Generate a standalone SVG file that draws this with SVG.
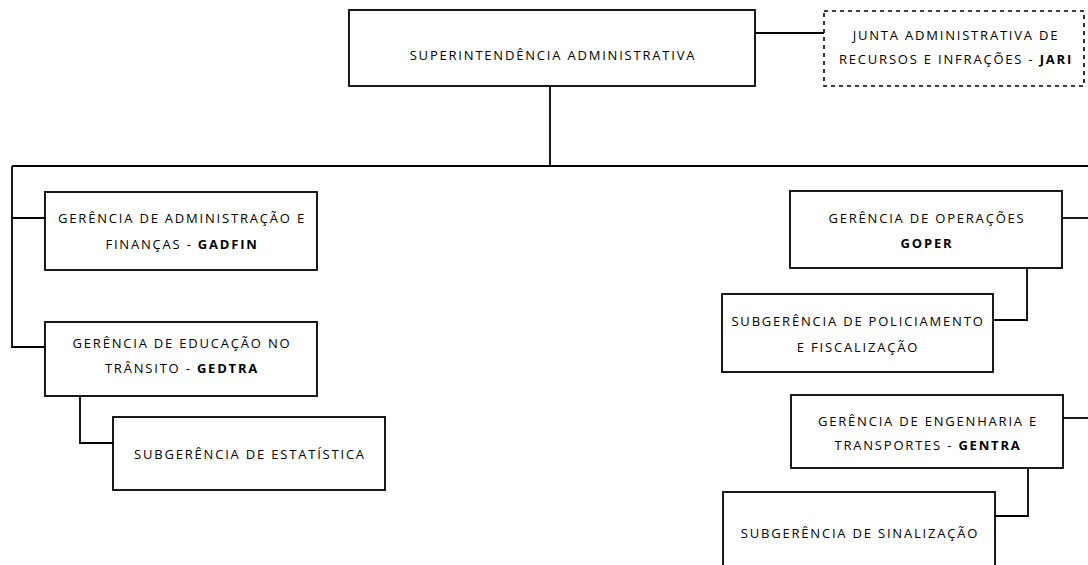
<svg xmlns="http://www.w3.org/2000/svg" width="1088" height="565" viewBox="0 0 1088 565">
<style>
.box{fill:#fff;stroke:#000;stroke-width:1.8}
.dash{fill:#fff;stroke:#000;stroke-width:1.6;stroke-dasharray:4 4}
.ln{fill:none;stroke:#000;stroke-width:1.8}
text{font-family:"Open Sans","Noto Sans","Liberation Sans",sans-serif;font-size:13px;fill:#000;text-anchor:middle;letter-spacing:1.8px}
.b{font-weight:bold}
</style>
<rect width="1088" height="565" fill="#fff"/>
<g id="connectors">
<path class="ln" d="M755 33H824"/>
<path class="ln" d="M550 86V166"/>
<path class="ln" d="M12 166H1090V418"/>
<path class="ln" d="M12 166V347H45"/>
<path class="ln" d="M12 218H45"/>
<path class="ln" d="M1062 218H1090"/>
<path class="ln" d="M1063 418H1090"/>
<path class="ln" d="M80 396V443H113"/>
<path class="ln" d="M1027 268V320H993"/>
<path class="ln" d="M1028 468V516H995"/>
</g>
<g id="superintendencia">
<rect class="box" x="349" y="10" width="406" height="76"/>
<text x="553" y="60">SUPERINTENDÊNCIA ADMINISTRATIVA</text>
</g>
<g id="jari">
<rect class="dash" x="824" y="11" width="260" height="75"/>
<text x="956" y="40">JUNTA ADMINISTRATIVA DE</text>
<text x="956" y="64">RECURSOS E INFRAÇÕES - <tspan class="b">JARI</tspan></text>
</g>
<g id="gadfin">
<rect class="box" x="45" y="192" width="272" height="78"/>
<text x="182" y="223">GERÊNCIA DE ADMINISTRAÇÃO E</text>
<text x="182" y="249">FINANÇAS - <tspan class="b">GADFIN</tspan></text>
</g>
<g id="gedtra">
<rect class="box" x="45" y="322" width="272" height="74"/>
<text x="182" y="348">GERÊNCIA DE EDUCAÇÃO NO</text>
<text x="182" y="373">TRÂNSITO - <tspan class="b">GEDTRA</tspan></text>
</g>
<g id="estatistica">
<rect class="box" x="113" y="417" width="272" height="73"/>
<text x="250" y="459">SUBGERÊNCIA DE ESTATÍSTICA</text>
</g>
<g id="goper">
<rect class="box" x="790" y="191" width="272" height="77"/>
<text x="927" y="223">GERÊNCIA DE OPERAÇÕES</text>
<text x="927" y="248"><tspan class="b">GOPER</tspan></text>
</g>
<g id="policiamento">
<rect class="box" x="722" y="294" width="271" height="78"/>
<text x="858" y="326">SUBGERÊNCIA DE POLICIAMENTO</text>
<text x="858" y="352">E FISCALIZAÇÃO</text>
</g>
<g id="gentra">
<rect class="box" x="791" y="395" width="272" height="73"/>
<text x="928" y="426">GERÊNCIA DE ENGENHARIA E</text>
<text x="928" y="450">TRANSPORTES - <tspan class="b">GENTRA</tspan></text>
</g>
<g id="sinalizacao">
<rect class="box" x="723" y="492" width="272" height="80"/>
<text x="860" y="538">SUBGERÊNCIA DE SINALIZAÇÃO</text>
</g>
</svg>
